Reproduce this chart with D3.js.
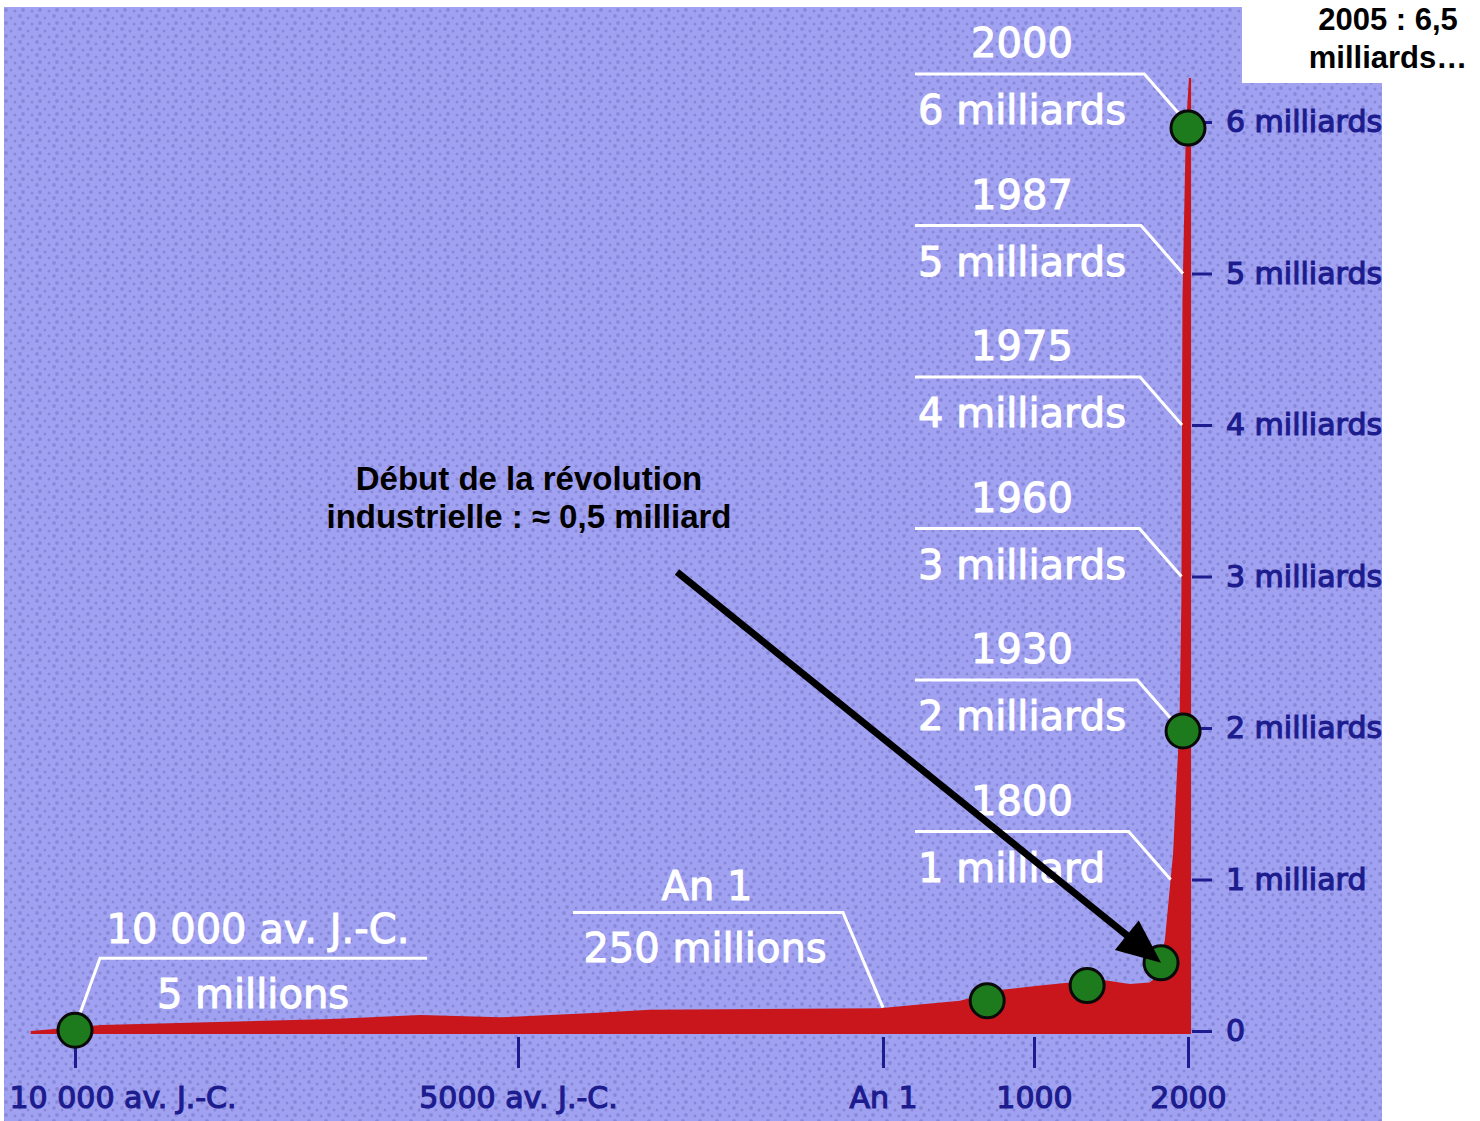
<!DOCTYPE html>
<html>
<head>
<meta charset="utf-8">
<script src="https://cdn.jsdelivr.net/npm/d3@7"></script>
<style>
  body { margin: 0; background: #fff; }
  svg { display: block; }
</style>
</head>
<body>
<script>
var w = 1480, h = 1121;

// population curve (year, billions)
var curveYears = [-10500, -9700, -7100, -6100, -5200, -3900, -3200, -50, 510, 775, 1040, 1430, 1620, 1750, 1800, 1850, 1903, 1945, 1957, 1964, 1986, 2006, 2020];
var curvePop   = [0, 0.04, 0.08, 0.105, 0.09, 0.12, 0.14, 0.15, 0.20, 0.27, 0.30, 0.34, 0.31, 0.32, 0.36, 0.60, 1.17, 2.04, 2.84, 4.83, 5.95, 6.29, 6.29];

// green markers
var dotYears = [-10000, 690, 1345, 1825, 1968, 2000];
var dotPop   = [0.005, 0.20, 0.30, 0.45, 1.98, 5.96];

// white callouts
var calloutTitles = ["10 000 av. J.-C.", "An 1", "1800", "1930", "1960", "1975", "1987", "2000"];
var calloutTexts  = ["5 millions", "250 millions", "1 milliard", "2 milliards", "3 milliards", "4 milliards", "5 milliards", "6 milliards"];
var calloutYears  = [-10000, 0, 1800, 1930, 1960, 1975, 1987, 2000];
var calloutPop    = [0.005, 0.25, 1, 2, 3, 4, 5, 6];

// axes
var xTicks = [-10000, -5000, 0, 1000, 2000];
var xTickLabels = ["10 000 av. J.-C.", "5000 av. J.-C.", "An 1", "1000", "2000"];
var yTicks = [0, 1, 2, 3, 4, 5, 6];
var yTickLabels = ["0", "1 milliard", "2 milliards", "3 milliards", "4 milliards", "5 milliards", "6 milliards"];

var noteLines = ["Début de la révolution", "industrielle : ≈ 0,5 milliard"];
var noteDot = 3;
var cornerLines = ["2005 : 6,5", "milliards…"];

var navy = "#1c1c8e", red = "#c8161c", green = "#1d7a1d";

var svg = d3.select("body").append("svg")
            .attr("width", w)
            .attr("height", h);

// dotted paper background
var defs = svg.append("defs");
var pat = defs.append("pattern")
              .attr("id", "paper")
              .attr("patternUnits", "userSpaceOnUse")
              .attr("width", 17).attr("height", 13);
pat.append("rect").attr("width", 17).attr("height", 13).attr("fill", "#a1a1f1");
[[3, 3], [11, 5], [6, 10], [15, 11]].forEach(function(p, i) {
  pat.append("circle").attr("cx", p[0]).attr("cy", p[1])
     .attr("r", i % 2 ? 1.5 : 1.9)
     .attr("fill", "#8282d6").attr("opacity", 0.8);
});
defs.append("clipPath").attr("id", "panel")
    .append("rect").attr("x", 4).attr("y", 7).attr("width", 1378).attr("height", h - 7);

svg.append("rect")
   .attr("x", 4).attr("y", 7).attr("width", 1378).attr("height", h - 7)
   .attr("fill", "url(#paper)");

var g = svg.append("g").attr("clip-path", "url(#panel)");

// piecewise (non linear) time axis like the original drawing
var x = d3.scaleLinear().domain(xTicks).range([75, 518, 883, 1034, 1188]);
var y = d3.scaleLinear().domain([0, 6]).range([1031, 122]);

var curve = curveYears.map(function(d, i) { return [d, curvePop[i]]; });

g.append("path")
 .datum(curve)
 .attr("fill", red)
 .attr("d", d3.area()
              .x(function(d) { return x(d[0]); })
              .y0(y(0) + 3)
              .y1(function(d) { return y(d[1]); }));

// right axis
var yAxis = g.append("g")
             .attr("transform", "translate(1192,0)")
             .call(d3.axisRight(y).tickValues(yTicks)
                     .tickFormat(function(d, i) { return yTickLabels[i]; })
                     .tickSize(20).tickPadding(14));
yAxis.select(".domain").remove();
yAxis.selectAll("line").attr("stroke", navy).attr("stroke-width", 3);
yAxis.selectAll("text")
     .attr("fill", navy)
     .attr("stroke", navy).attr("stroke-width", 1.2)
     .style("font-family", "DejaVu Sans, sans-serif")
     .style("font-size", "30px");

// bottom axis
var xAxis = g.append("g")
             .attr("transform", "translate(0,1037)")
             .call(d3.axisBottom(x).tickValues(xTicks)
                     .tickFormat(function(d, i) { return xTickLabels[i]; })
                     .tickSize(31).tickPadding(19));
xAxis.select(".domain").remove();
xAxis.selectAll("line").attr("stroke", navy).attr("stroke-width", 3);
xAxis.selectAll("text")
     .attr("fill", navy)
     .attr("stroke", navy).attr("stroke-width", 1.2)
     .style("font-family", "DejaVu Sans, sans-serif")
     .style("font-size", "30px");
xAxis.selectAll("text").filter(function(d, i) { return i == 0; })
     .attr("text-anchor", "start").attr("x", -66);

// where the curve is at a given year / reaches a given value
function popAt(year) {
  for (var i = 1; i < curve.length; i++) {
    if (year <= curve[i][0]) {
      var t = (year - curve[i-1][0]) / (curve[i][0] - curve[i-1][0]);
      return curve[i-1][1] + t * (curve[i][1] - curve[i-1][1]);
    }
  }
  return curve[curve.length-1][1];
}
function yearAt(v) {
  for (var i = 1; i < curve.length; i++) {
    if (curve[i][1] >= v && curve[i-1][1] < v) {
      var t = (v - curve[i-1][1]) / (curve[i][1] - curve[i-1][1]);
      return curve[i-1][0] + t * (curve[i][0] - curve[i-1][0]);
    }
  }
  return curve[curve.length-1][0];
}

// callouts with leader lines
var font = "DejaVu Sans, sans-serif";
calloutTitles.forEach(function(title, i) {
  var ex, ey, lineY, pts, cx, ty, vx, vy, anchor;
  if (calloutPop[i] >= 1) {
    ex = x(yearAt(calloutPop[i]));
    ey = y(calloutPop[i]);
    lineY = ey - 48;
    pts = [[915, lineY], [ex - 42, lineY], [ex, ey]];
    cx = 1022; ty = lineY - 17; vx = 918; vy = ey + 2; anchor = "start";
  } else {
    ex = x(calloutYears[i]);
    ey = y(popAt(calloutYears[i]));
    if (i == 0) {
      lineY = ey - 69;
      pts = [[ex + 352, lineY], [ex + 25, lineY], [ex, ey]];
      cx = ex + 183; ty = lineY - 15; vx = ex + 178; vy = lineY + 50;
    } else {
      lineY = ey - 95;
      pts = [[ex - 310, lineY], [ex - 40, lineY], [ex, ey]];
      cx = ex - 176; ty = lineY - 13; vx = ex - 178; vy = lineY + 49;
    }
    anchor = "middle";
  }
  g.append("path")
   .attr("d", d3.line()(pts))
   .attr("fill", "none")
   .attr("stroke", "#fff")
   .attr("stroke-width", 3);
  g.append("text")
   .attr("x", cx).attr("y", ty)
   .attr("text-anchor", "middle")
   .attr("fill", "#fff").attr("stroke", "#fff").attr("stroke-width", 1)
   .style("font-family", font).style("font-size", "40px")
   .text(title);
  g.append("text")
   .attr("x", vx).attr("y", vy)
   .attr("text-anchor", anchor)
   .attr("fill", "#fff").attr("stroke", "#fff").attr("stroke-width", 1)
   .style("font-family", font).style("font-size", "40px")
   .text(calloutTexts[i]);
});

// green markers
g.selectAll(".dot")
 .data(dotYears)
 .enter()
 .append("circle")
 .attr("class", "dot")
 .attr("cx", function(d) { return x(d); })
 .attr("cy", function(d, i) { return y(dotPop[i]); })
 .attr("r", 17)
 .attr("fill", green)
 .attr("stroke", "#0a0a0a")
 .attr("stroke-width", 3);

// annotation + arrow
var note = g.append("text")
            .attr("text-anchor", "middle")
            .attr("fill", "#000")
            .style("font-family", "Liberation Sans, Arial, sans-serif")
            .style("font-weight", "bold")
            .style("font-size", "33px");
noteLines.forEach(function(l, i) {
  note.append("tspan").attr("x", 529).attr("y", 490 + i * 38).text(l);
});

var tip = [x(dotYears[noteDot]), y(dotPop[noteDot])];
var start = [677, 572];
var ang = Math.atan2(tip[1] - start[1], tip[0] - start[0]);
var headLen = 44, headW = 19;
var base = [tip[0] - headLen * Math.cos(ang), tip[1] - headLen * Math.sin(ang)];
g.append("line")
 .attr("x1", start[0]).attr("y1", start[1])
 .attr("x2", base[0] + 4 * Math.cos(ang)).attr("y2", base[1] + 4 * Math.sin(ang))
 .attr("stroke", "#000").attr("stroke-width", 7);
g.append("path")
 .attr("d", d3.line()([
   tip,
   [base[0] + headW * Math.sin(ang), base[1] - headW * Math.cos(ang)],
   [base[0] - headW * Math.sin(ang), base[1] + headW * Math.cos(ang)]
 ]) + "Z")
 .attr("fill", "#000");

// white corner with the 2005 note
svg.append("rect")
   .attr("x", 1242).attr("y", 0).attr("width", w - 1242).attr("height", 83)
   .attr("fill", "#fff");
var corner = svg.append("text")
                .attr("text-anchor", "middle")
                .attr("fill", "#000")
                .style("font-family", "Liberation Sans, Arial, sans-serif")
                .style("font-weight", "bold")
                .style("font-size", "31px");
cornerLines.forEach(function(l, i) {
  corner.append("tspan").attr("x", 1388).attr("y", 30 + i * 38).text(l);
});
</script>
</body>
</html>
